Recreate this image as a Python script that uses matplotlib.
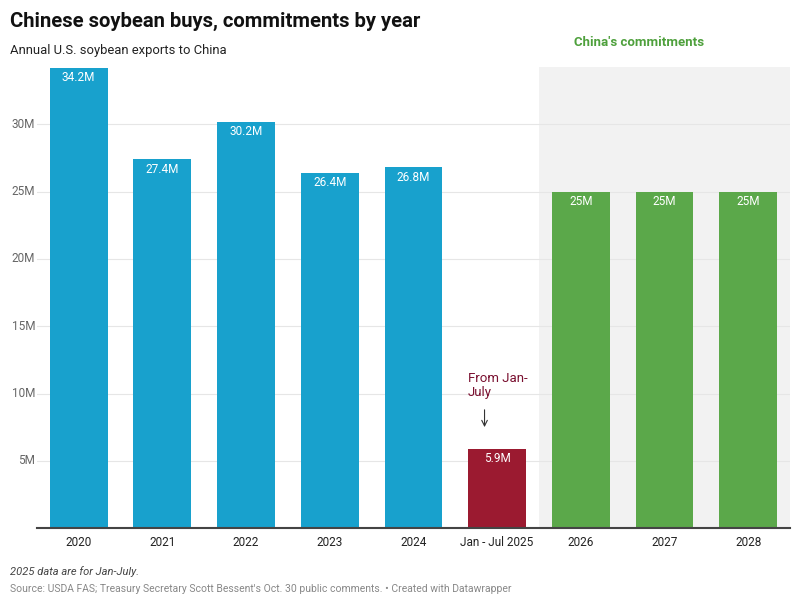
import matplotlib.pyplot as plt

plt.rcParams['font.family'] = ['Roboto', 'DejaVu Sans']

years = ['2020', '2021', '2022', '2023', '2024', 'Jan - Jul 2025', '2026', '2027', '2028']
values = [34.2, 27.4, 30.2, 26.4, 26.8, 5.9, 25, 25, 25]
labels = ['34.2M', '27.4M', '30.2M', '26.4M', '26.8M', '5.9M', '25M', '25M', '25M']
colors = ['#18a1cd'] * 5 + ['#9b1a30'] + ['#5ba84a'] * 3
yticks = [5, 10, 15, 20, 25, 30]

fig = plt.figure(figsize=(8, 6.05), dpi=100, facecolor='white')
ax = fig.add_axes([0.046, 0.127, 0.9415, 0.762])

x = list(range(len(years)))
ax.axvspan(5.5, 8.5, color='#f2f2f2', zorder=0, lw=0)
for yt in yticks:
    ax.axhline(yt, color='#e6e6e6', lw=0.8, zorder=1)
ax.bar(x, values, width=0.69, color=colors, zorder=2)

for xi, v, lab in zip(x, values, labels):
    ax.text(xi, v - 0.75, lab, ha='center', va='center', color='white', fontsize=8.5, zorder=3)

ax.set_xlim(-0.5, 8.5)
ax.set_ylim(0, 34.25)
ax.set_xticks(x)
ax.set_xticklabels(years, fontsize=8.5, color='#222222')
ax.set_yticks([])
for yt in yticks:
    ax.text(-0.52, yt, f'{yt}M', ha='right', va='center', fontsize=8.5, color='#666666',
            transform=ax.transData)
ax.tick_params(axis='x', length=0, pad=6)
for s in ['top', 'right', 'left']:
    ax.spines[s].set_visible(False)
ax.spines['bottom'].set_color('#444444')
ax.spines['bottom'].set_linewidth(1.5)

ax.text(5 - 0.35, 10.6, 'From Jan-\nJuly', ha='left', va='center', fontsize=9.5,
        color='#7a1030', linespacing=1.1)
ax.annotate('', xy=(5 - 0.15, 7.3), xytext=(5 - 0.15, 9.0),
            arrowprops=dict(arrowstyle='->', color='#333333', lw=0.8))

fig.text(0.799, 0.93, "China's commitments", ha='center', va='center', fontsize=9.5,
         color='#4ea03c', fontweight='bold')
fig.text(0.012, 0.965, 'Chinese soybean buys, commitments by year', ha='left', va='center',
         fontsize=14.6, fontweight='bold', color='#111111')
fig.text(0.012, 0.917, 'Annual U.S. soybean exports to China', ha='left', va='center',
         fontsize=9.4, color='#222222')
fig.text(0.012, 0.056, '2025 data are for Jan-July.', ha='left', va='center',
         fontsize=8, style='italic', color='#444444')
fig.text(0.012, 0.026, "Source: USDA FAS; Treasury Secretary Scott Bessent's Oct. 30 public comments. \u2022 Created with Datawrapper",
         ha='left', va='center', fontsize=7.5, color='#888888')

fig.savefig('out.png', dpi=100)
